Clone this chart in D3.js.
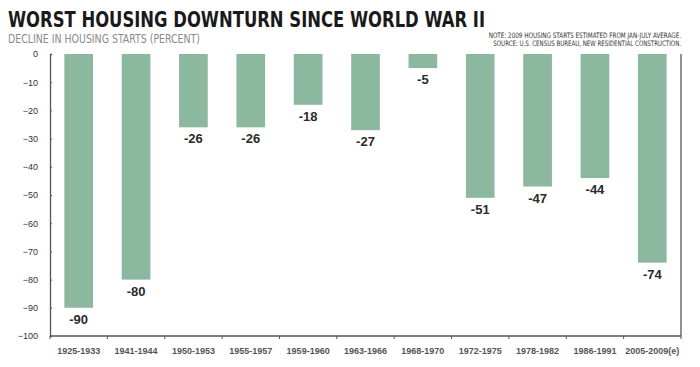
<!DOCTYPE html>
<html>
<head>
<meta charset="utf-8">
<script src="https://cdn.jsdelivr.net/npm/d3@7"></script>
<style>
  body { margin: 0; background: #fff; }
  svg { display: block; }
</style>
</head>
<body>
<div id="chart"></div>
<script>
// ── data ────────────────────────────────────────────
const periods = ['1925-1933', '1941-1944', '1950-1953', '1955-1957', '1959-1960',
  '1963-1966', '1968-1970', '1972-1975', '1978-1982', '1986-1991', '2005-2009(e)'];
const declines = [-90, -80, -26, -26, -18, -27, -5, -51, -47, -44, -74];
const yTicks = [0, -10, -20, -30, -40, -50, -60, -70, -80, -90, -100];

const W = 700, H = 367;
const m = { top: 54, right: 19, bottom: 31, left: 50 };

const svg = d3.select('#chart').append('svg')
  .attr('width', W).attr('height', H);

// ── titles ──────────────────────────────────────────
const narrow = "'Liberation Sans Narrow', 'DejaVu Sans Condensed', 'Arial Narrow', sans-serif";

svg.append('text')
  .attr('x', 8).attr('y', 27)
  .attr('font-family', narrow)
  .attr('font-weight', 'bold')
  .attr('font-size', 21)
  .attr('fill', '#1a1a1a')
  .attr('textLength', 477).attr('lengthAdjust', 'spacingAndGlyphs')
  .text('WORST HOUSING DOWNTURN SINCE WORLD WAR II');

svg.append('text')
  .attr('x', 8).attr('y', 42.5)
  .attr('font-family', narrow)
  .attr('font-size', 12)
  .attr('fill', '#8a8a8a')
  .attr('textLength', 192).attr('lengthAdjust', 'spacingAndGlyphs')
  .text('DECLINE IN HOUSING STARTS (PERCENT)');

// notes: squeezed horizontally to the reference width
const notes = ['NOTE: 2009 HOUSING STARTS ESTIMATED FROM JAN-JULY AVERAGE.',
  'SOURCE: U.S. CENSUS BUREAU, NEW RESIDENTIAL CONSTRUCTION.'];
const noteLen = [193, 188];
notes.forEach((t, i) => {
  const g = svg.append('g');
  const txt = g.append('text')
    .attr('x', 0).attr('y', 0)
    .attr('text-anchor', 'end')
    .attr('font-family', narrow)
    .attr('font-size', 7.5)
    .attr('fill', '#333')
    .text(t);
  const w = txt.node().getComputedTextLength();
  const sx = w > 0 ? noteLen[i] / w : 1;
  g.attr('transform', `translate(681,${38 + i * 8}) scale(${sx},1)`);
});

// ── scales ──────────────────────────────────────────
const x = d3.scaleBand()
  .domain(periods)
  .range([m.left, W - m.right])
  .paddingInner(0.5).paddingOuter(0.25);

const y = d3.scaleLinear()
  .domain([0, -100])
  .range([m.top, H - m.bottom]);

// ── bars ────────────────────────────────────────────
const data = periods.map((p, i) => ({ p, v: declines[i] }));

svg.append('g').selectAll('rect')
  .data(data)
  .join('rect')
  .attr('x', d => x(d.p))
  .attr('y', y(0))
  .attr('width', x.bandwidth())
  .attr('height', d => y(d.v) - y(0))
  .attr('fill', '#8cb89f');

svg.append('g').selectAll('text')
  .data(data)
  .join('text')
  .attr('x', d => x(d.p) + x.bandwidth() / 2)
  .attr('y', d => y(d.v) + 16)
  .attr('text-anchor', 'middle')
  .attr('font-family', 'Liberation Sans, Arial, sans-serif')
  .attr('font-weight', 'bold')
  .attr('font-size', 13)
  .attr('fill', '#2b2b2b')
  .text(d => d.v);

// ── axes ────────────────────────────────────────────
const axisCol = '#555';

const yAxis = svg.append('g')
  .attr('transform', `translate(${m.left},0)`)
  .call(d3.axisLeft(y).tickValues(yTicks).tickSize(-2).tickPadding(12));
yAxis.select('.domain').attr('stroke', axisCol).attr('stroke-width', 1.3);
yAxis.selectAll('.tick line').attr('stroke', axisCol);
yAxis.selectAll('.tick text')
  .attr('font-family', 'Liberation Sans, Arial, sans-serif')
  .attr('font-size', 9)
  .attr('fill', '#333');

// bottom axis with ticks between categories
const xEdge = d3.scaleLinear().domain([0, periods.length]).range([m.left, W - m.right]);
const xAxis = svg.append('g')
  .attr('transform', `translate(0,${y(-100)})`);
xAxis.append('line')
  .attr('x1', m.left).attr('x2', W - m.right)
  .attr('stroke', axisCol).attr('stroke-width', 1.3);
xAxis.selectAll('line.tk')
  .data(d3.range(periods.length + 1))
  .join('line')
  .attr('class', 'tk')
  .attr('x1', d => xEdge(d)).attr('x2', d => xEdge(d))
  .attr('y1', 0).attr('y2', 3)
  .attr('stroke', axisCol);
xAxis.selectAll('text')
  .data(periods)
  .join('text')
  .attr('x', d => x(d) + x.bandwidth() / 2)
  .attr('y', 18)
  .attr('text-anchor', 'middle')
  .attr('font-family', 'Liberation Sans, Arial, sans-serif')
  .attr('font-weight', 'bold')
  .attr('font-size', 9)
  .attr('fill', '#555')
  .text(d => d);

// right border
svg.append('line')
  .attr('x1', W - m.right).attr('x2', W - m.right)
  .attr('y1', y(0)).attr('y2', y(-100))
  .attr('stroke', axisCol).attr('stroke-width', 1.3);
</script>
</body>
</html>
